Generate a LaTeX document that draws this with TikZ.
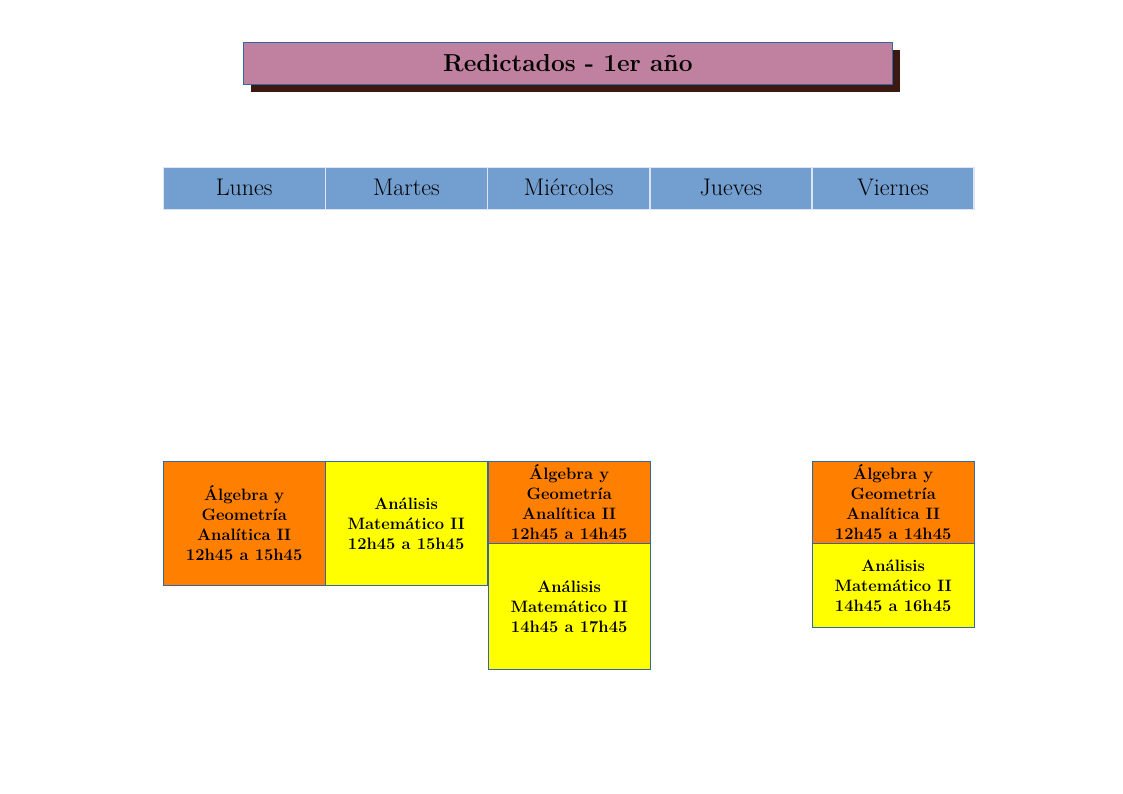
\documentclass[tikz,border=0pt]{standalone}
\usepackage{fontspec}
\definecolor{titlefill}{HTML}{C0809F}
\definecolor{shadowc}{HTML}{3C1810}
\definecolor{cellborder}{HTML}{3465A4}
\definecolor{dayblue}{HTML}{729FCF}
\definecolor{daysep}{HTML}{DCE6F2}
\definecolor{orangec}{HTML}{FF8000}
\definecolor{yellowc}{HTML}{FFFF00}
\begin{document}
\begin{tikzpicture}[x=1pt,y=-1pt,
  cell/.style={draw=cellborder, line width=0.8pt, anchor=north west, inner sep=0pt,
    align=center, minimum width=161.5pt, font=\fontsize{16.5}{20}\selectfont\bfseries},
  orangecell/.style={cell, fill=orangec},
  yellowcell/.style={cell, fill=yellowc},
  day/.style={fill=dayblue, draw=daysep, line width=1.5pt, anchor=north west,
    minimum width=162pt, minimum height=42pt, inner sep=0pt,
    text height=18pt, text depth=4pt,
    font=\fontsize{24}{28}\selectfont}]
\useasboundingbox (0,0) rectangle (1123,794);
% title
\node[fill=shadowc, anchor=north west, minimum width=649pt, minimum height=42pt, inner sep=0pt] (shadow) at (251,50) {};
\node[fill=titlefill, draw=cellborder, line width=0.8pt, anchor=north west, minimum width=649pt, minimum height=42pt, inner sep=0pt,
  font=\fontsize{24.5}{28}\selectfont\bfseries] (title) at (243,42) {Redictados - 1er año};
% day header
\node[day] (lun) at (162.5,167) {Lunes};
\node[day] (mar) at (324.7,167) {Martes};
\node[day] (mie) at (486.9,167) {Miércoles};
\node[day] (jue) at (649.1,167) {Jueves};
\node[day] (vie) at (811.3,167) {Viernes};
% classes
\node[orangecell, minimum height=124pt] (lunA) at (163,461) {Álgebra y\\Geometría\\Analítica II\\12h45 a 15h45};
\node[yellowcell, minimum height=124pt] (marB) at (325,461) {Análisis\\Matemático II\\12h45 a 15h45};
\node[orangecell, minimum height=82pt] (mieA) at (488,461) {Álgebra y\\Geometría\\Analítica II\\12h45 a 14h45};
\node[yellowcell, minimum height=126pt] (mieB) at (488,543) {Análisis\\Matemático II\\14h45 a 17h45};
\node[orangecell, minimum height=82pt] (vieA) at (812,461) {Álgebra y\\Geometría\\Analítica II\\12h45 a 14h45};
\node[yellowcell, minimum height=84pt] (vieB) at (812,543) {Análisis\\Matemático II\\14h45 a 16h45};
\end{tikzpicture}
\end{document}
